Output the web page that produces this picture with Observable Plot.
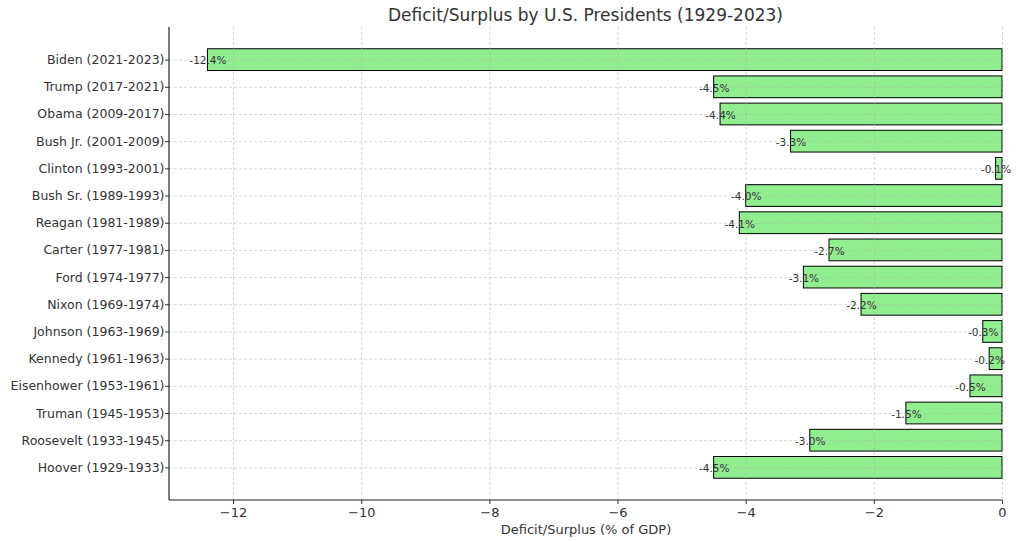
<!DOCTYPE html>
<html>
<head>
<meta charset="utf-8">
<script src="https://cdn.jsdelivr.net/npm/d3@7"></script>
<script src="https://cdn.jsdelivr.net/npm/@observablehq/plot@0.6"></script>
<style>
  body { margin: 0; background: #fff; font-family: "DejaVu Sans", sans-serif; }
  #title { margin-left: 169px; width: 833px; height: 27px; text-align: center; font-size: 17px; color: #333; line-height: 30px; }
</style>
</head>
<body>
<div id="title">Deficit/Surplus by U.S. Presidents (1929-2023)</div>
<div id="chart"></div>
<script>
const presidents = [
  "Biden (2021-2023)", "Trump (2017-2021)", "Obama (2009-2017)", "Bush Jr. (2001-2009)",
  "Clinton (1993-2001)", "Bush Sr. (1989-1993)", "Reagan (1981-1989)", "Carter (1977-1981)",
  "Ford (1974-1977)", "Nixon (1969-1974)", "Johnson (1963-1969)", "Kennedy (1961-1963)",
  "Eisenhower (1953-1961)", "Truman (1945-1953)", "Roosevelt (1933-1945)", "Hoover (1929-1933)"
];
const values = [-12.4, -4.5, -4.4, -3.3, -0.1, -4.0, -4.1, -2.7, -3.1, -2.2, -0.3, -0.2, -0.5, -1.5, -3.0, -4.5];
const xTicks = [-12, -10, -8, -6, -4, -2, 0];

const data = presidents.map((p, i) => ({president: p, value: values[i]}));

function spines(index, scales, values, dimensions) {
  const d = dimensions;
  const g = d3.create("svg:g").attr("stroke", "#222").attr("stroke-width", 1.2).attr("fill", "none");
  const x0 = d.marginLeft, x1 = d.width - d.marginRight;
  const y0 = d.marginTop, y1 = d.height - d.marginBottom;
  g.append("line").attr("x1", x0).attr("x2", x0).attr("y1", y0).attr("y2", y1);
  g.append("line").attr("x1", x0).attr("x2", x1).attr("y1", y1).attr("y2", y1);
  return g.node();
}

const chart = Plot.plot({
  width: 1024,
  height: 514,
  marginLeft: 169,
  marginRight: 22,
  marginTop: 0,
  marginBottom: 41,
  style: {fontFamily: "DejaVu Sans, sans-serif", fontSize: "12px", color: "#333", background: "#fff"},
  x: {domain: [-13, 0], ticks: xTicks},
  y: {domain: presidents, paddingInner: 0.2, paddingOuter: 0.8, round: false},
  marks: [
    Plot.barX(data, {x1: 0, x2: "value", y: "president", fill: "#90ee90", stroke: "#000", strokeWidth: 1}),
    Plot.ruleX(xTicks, {stroke: "#b0b0b0", strokeOpacity: 0.7, strokeDasharray: "3,2", strokeWidth: 0.7}),
    Plot.ruleY(presidents, {y: d => d, stroke: "#b0b0b0", strokeOpacity: 0.7, strokeDasharray: "3,2", strokeWidth: 0.7}),
    Plot.text(data, {x: "value", y: "president", dy: 1, text: d => d.value.toFixed(1) + "%", fontSize: 10.5, fill: "#333", textAnchor: "middle"}),
    Plot.axisY({tickSize: 4, tickPadding: 1, fontSize: 12.5, label: null, stroke: "#333"}),
    Plot.axisX({ticks: xTicks, tickSize: 4, tickPadding: 3, fontSize: 13, stroke: "#333",
      label: "Deficit/Surplus (% of GDP)", labelAnchor: "center", labelArrow: "none", labelOffset: 33}),
    spines
  ]
});
document.getElementById("chart").appendChild(chart);
</script>
</body>
</html>
